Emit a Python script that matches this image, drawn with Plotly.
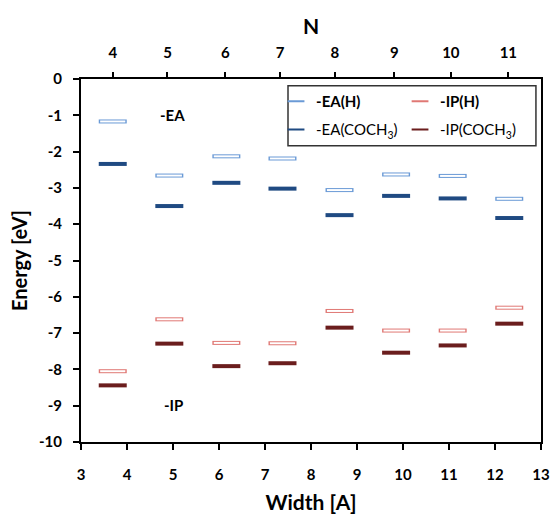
import plotly.graph_objects as go

# ---- data ----
n_labels = ["4", "5", "6", "7", "8", "9", "10", "11"]
widths = [3.69, 4.92, 6.16, 7.38, 8.62, 9.85, 11.08, 12.31]          # Width [A] of each ribbon
n_tick_pos = [3.69, 4.88, 6.14, 7.33, 8.52, 9.81, 11.04, 12.29]      # top-axis N tick positions

ea_h = [-1.17, -2.66, -2.13, -2.19, -3.06, -2.63, -2.67, -3.30]
ea_coch3 = [-2.34, -3.50, -2.86, -3.02, -3.75, -3.22, -3.29, -3.83]
ip_h = [-8.05, -6.62, -7.27, -7.28, -6.39, -6.93, -6.93, -6.30]
ip_coch3 = [-8.44, -7.29, -7.91, -7.83, -6.85, -7.54, -7.34, -6.74]

x_ticks = [3, 4, 5, 6, 7, 8, 9, 10, 11, 12, 13]
y_ticks = [0, -1, -2, -3, -4, -5, -6, -7, -8, -9, -10]

FONT = "Lato"
C_EA_H = "#6a9ad6"
C_EA_C = "#1f4a82"
C_IP_H = "#e07874"
C_IP_C = "#6b1d1d"

fig = go.Figure()


def dash_trace(y, color, name, legend, hollow):
    fig.add_trace(go.Scatter(
        x=widths, y=y, mode="markers", name=name, legend=legend,
        marker=dict(symbol="line-ew", size=20, color=color,
                    line=dict(color=color, width=4)),
        hoverinfo="x+y",
    ))
    if hollow:
        # white core drawn on the (matching) top axis so it sits above the outline
        fig.add_trace(go.Scatter(
            x=widths, y=y, mode="markers", showlegend=False, xaxis="x2",
            marker=dict(symbol="line-ew", size=18, color="white",
                        line=dict(color="white", width=2)),
            hoverinfo="skip",
        ))


dash_trace(ea_h, C_EA_H, "<b>-EA(H)</b>", "legend", True)
dash_trace(ip_h, C_IP_H, "<b>-IP(H)</b>", "legend", True)
dash_trace(ea_coch3, C_EA_C, "-EA(COCH<sub>3</sub>)", "legend2", False)
dash_trace(ip_coch3, C_IP_C, "-IP(COCH<sub>3</sub>)", "legend2", False)

tick_font = dict(family=FONT, size=15, color="black", weight="bold")

fig.update_layout(
    width=553, height=514,
    margin=dict(l=81, r=12, t=79, b=72, autoexpand=False),
    paper_bgcolor="white", plot_bgcolor="white",
    font=dict(family=FONT, size=14, color="black"),
    showlegend=True,
    xaxis=dict(
        range=[3, 13], tickvals=x_ticks, ticktext=[str(v) for v in x_ticks],
        ticks="outside", ticklen=6, tickwidth=2, tickcolor="black",
        showline=True, linewidth=2, linecolor="black", mirror=True,
        showgrid=False, zeroline=False, tickfont=tick_font, automargin=False,
        ticklabelstandoff=12,
        title=dict(text="<b>Width [A]</b>", font=dict(family=FONT, size=21, color="black"), standoff=14),
    ),
    xaxis2=dict(
        range=[3, 13], overlaying="x", side="top", anchor="y",
        tickvals=n_tick_pos, ticktext=n_labels,
        ticks="outside", ticklen=6, tickwidth=2, tickcolor="black",
        showline=False, showgrid=False, zeroline=False, tickfont=tick_font, automargin=False,
        ticklabelstandoff=8,
        title=dict(text="<b>N</b>", font=dict(family=FONT, size=21, color="black"), standoff=2),
    ),
    yaxis=dict(
        range=[-10, 0], tickvals=y_ticks, ticktext=[str(v) for v in y_ticks],
        ticks="outside", ticklen=6, tickwidth=2, tickcolor="black",
        showline=True, linewidth=2, linecolor="black", mirror=True,
        showgrid=False, zeroline=False, tickfont=tick_font, automargin=False,
        ticklabelstandoff=8,
        title=dict(text="<b>Energy [eV]</b>", font=dict(family=FONT, size=20, color="black"), standoff=6),
    ),
    legend=dict(
        orientation="h", x=0.424, xanchor="left", y=0.938, yanchor="middle",
        entrywidth=79, entrywidthmode="pixels", itemsizing="constant",
        bgcolor="rgba(0,0,0,0)", borderwidth=0,
        font=dict(family=FONT, size=15, color="black"),
    ),
    legend2=dict(
        orientation="h", x=0.424, xanchor="left", y=0.860, yanchor="middle",
        entrywidth=79, entrywidthmode="pixels", itemsizing="constant",
        bgcolor="rgba(0,0,0,0)", borderwidth=0,
        font=dict(family=FONT, size=15, color="black"),
    ),
    shapes=[dict(
        type="rect", xref="paper", yref="paper",
        x0=0.45, x1=0.989, y0=0.816, y1=0.9815,
        line=dict(color="#333333", width=1.5), fillcolor="rgba(0,0,0,0)",
    )],
    annotations=[
        dict(text="<b>-EA</b>", x=4.67, y=-0.99, xref="x", yref="y",
             xanchor="left", yanchor="middle", showarrow=False,
             font=dict(family=FONT, size=15, color="black")),
        dict(text="<b>-IP</b>", x=4.76, y=-8.97, xref="x", yref="y",
             xanchor="left", yanchor="middle", showarrow=False,
             font=dict(family=FONT, size=15, color="black")),
    ],
)

fig.write_html("out.html", config={"displayModeBar": False},
               post_script="document.body.style.margin='0px';")
